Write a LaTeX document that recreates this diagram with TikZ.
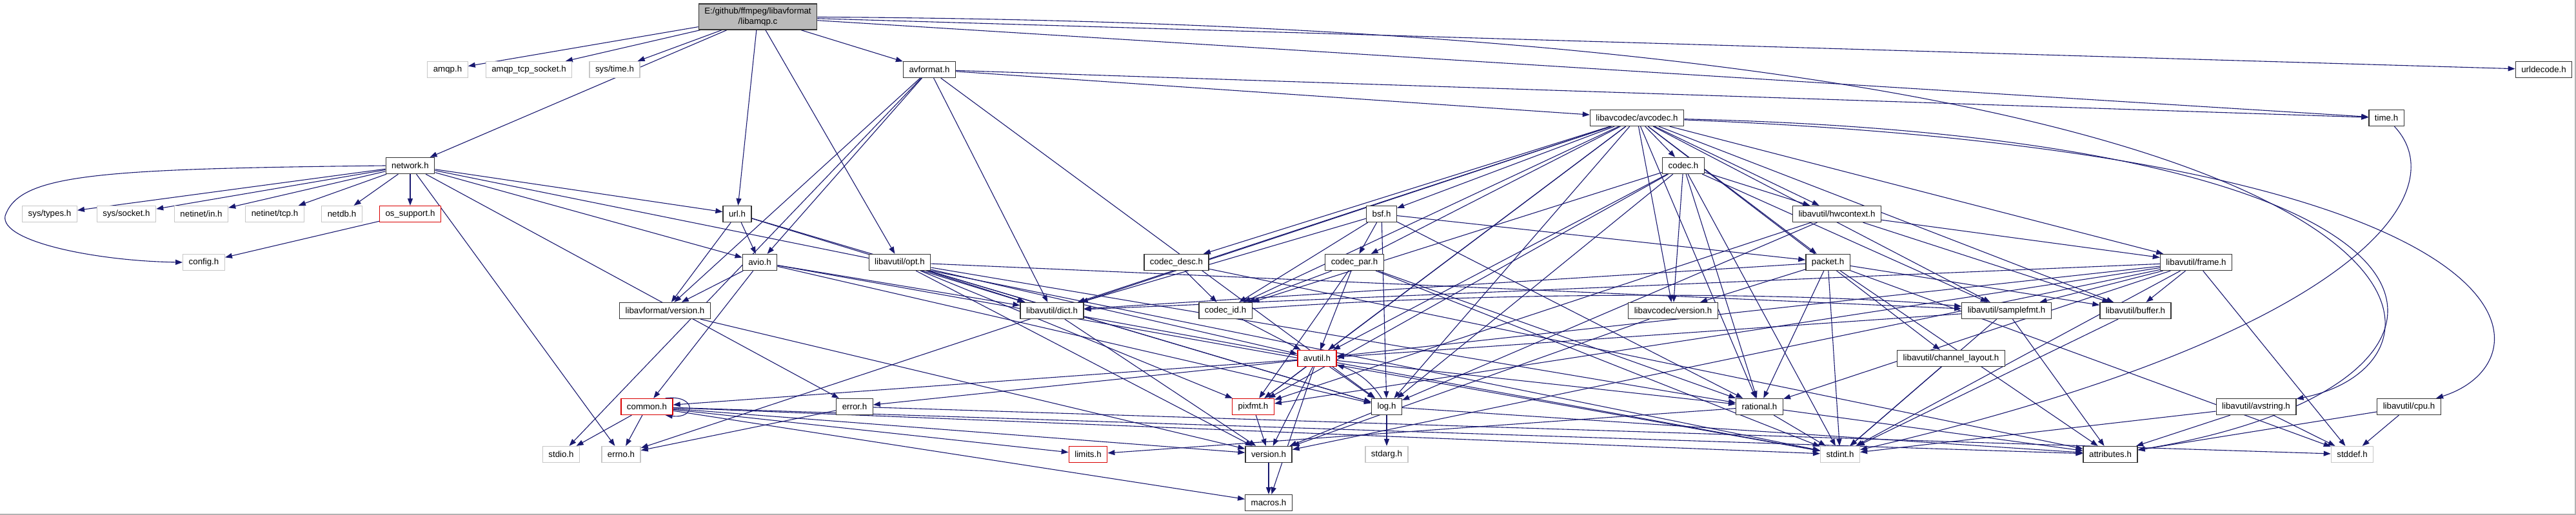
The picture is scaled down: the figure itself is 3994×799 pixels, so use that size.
\documentclass[tikz,border=0pt]{standalone}
\usepackage{fontspec}
\setmainfont{Liberation Sans}
\usepackage{tikz}
\usetikzlibrary{arrows.meta}
\definecolor{doxyblue}{HTML}{191970}
\pgfdeclarelayer{edges}
\pgfsetlayers{edges,main}

\begin{document}
\begin{tikzpicture}[
  x=1pt, y=-1pt,
  hdr/.style={draw=black!80, line width=1.3pt, fill=white, minimum height=25pt,
    inner xsep=9pt, inner ysep=0pt, font=\fontsize{13.3}{15.5}\selectfont},
  ext/.style={hdr, draw=black!22},
  trunc/.style={hdr, draw=red!85!black},
  main/.style={hdr, fill=black!27, minimum height=40pt, align=center},
  dep/.style={-{Triangle[length=11pt,width=8pt]}, line width=1.1pt, doxyblue}]

\useasboundingbox (0,0) rectangle (3994,799);

% ---- the file itself and its direct includes ---------------------------
\node[main]  (root)      at (1175,26)  {E:/github/ffmpeg/libavformat\\/libamqp.c};
\node[ext]   (amqp)      at (694,108)  {amqp.h};
\node[ext]   (amqptcp)   at (820,108)  {amqp\_tcp\_socket.h};
\node[ext]   (systime)   at (953,108)  {sys/time.h};
\node[hdr]   (avformat)  at (1441,108) {avformat.h};
\node[hdr]   (urldecode) at (3944,108) {urldecode.h};
\node[hdr]   (avcodec)   at (2538,183) {libavcodec/avcodec.h};
\node[hdr]   (timeh)     at (3700,183) {time.h};
\node[hdr]   (network)   at (636,257)  {network.h};
\node[hdr]   (codec)     at (2610,257) {codec.h};

% ---- network layer ------------------------------------------------------
\node[ext]   (systypes)  at (77,332)   {sys/types.h};
\node[ext]   (syssocket) at (196,332)  {sys/socket.h};
\node[ext]   (netin)     at (312,332)  {netinet/in.h};
\node[ext]   (nettcp)    at (426,332)  {netinet/tcp.h};
\node[ext]   (netdb)     at (530,332)  {netdb.h};
\node[trunc] (ossupport) at (636,332)  {os\_support.h};
\node[hdr]   (url)       at (1143,332) {url.h};
\node[hdr]   (bsf)       at (2142,332) {bsf.h};
\node[hdr]   (hwcontext) at (2848,332) {libavutil/hwcontext.h};
\node[ext]   (config)    at (316,407)  {config.h};
\node[hdr]   (avio)      at (1178,407) {avio.h};
\node[hdr]   (opt)       at (1395,407) {libavutil/opt.h};
\node[hdr]   (codecdesc) at (1824,407) {codec\_desc.h};
\node[hdr]   (codecpar)  at (2100,407) {codec\_par.h};
\node[hdr]   (packet)    at (2834,407) {packet.h};
\node[hdr]   (frame)     at (3405,407) {libavutil/frame.h};

% ---- libavutil and friends ----------------------------------------------
\node[hdr]   (lavfversion) at (1031,482) {libavformat/version.h};
\node[hdr]   (dict)      at (1631,482) {libavutil/dict.h};
\node[hdr]   (codecid)   at (1900,482) {codec\_id.h};
\node[hdr]   (lavcversion) at (2594,482) {libavcodec/version.h};
\node[hdr]   (samplefmt) at (3111,482) {libavutil/samplefmt.h};
\node[hdr]   (buffer)    at (3311,482) {libavutil/buffer.h};
\node[trunc] (avutil)    at (2042,556) {avutil.h};
\node[hdr]   (chlayout)  at (3025,556) {libavutil/channel\_layout.h};
\node[trunc] (common)    at (1003,631) {common.h};
\node[hdr]   (error)     at (1325,631) {error.h};
\node[trunc] (pixfmt)    at (1943,631) {pixfmt.h};
\node[hdr]   (log)       at (2150,631) {log.h};
\node[hdr]   (rational)  at (2728,631) {rational.h};
\node[hdr]   (avstring)  at (3498,631) {libavutil/avstring.h};
\node[hdr]   (cpu)       at (3735,631) {libavutil/cpu.h};

% ---- system headers and the bottom of the tree --------------------------
\node[ext]   (stdio)     at (870,705)  {stdio.h};
\node[ext]   (errno)     at (963,705)  {errno.h};
\node[trunc] (limits)    at (1687,705) {limits.h};
\node[hdr]   (version)   at (1967,705) {version.h};
\node[ext]   (stdarg)    at (2150,705) {stdarg.h};
\node[ext]   (stdint)    at (2853,705) {stdint.h};
\node[hdr]   (attributes) at (3272,705) {attributes.h};
\node[ext]   (stddef)    at (3647,705) {stddef.h};
\node[hdr]   (macros)    at (1967,780) {macros.h};

% ======================= include edges ==================================
\begin{pgfonlayer}{edges}
\foreach \t in {amqp,amqptcp,systime,avformat,urldecode,timeh,network,url,opt}
  \draw[dep] (root) -- (\t);
\draw[dep] (root) .. controls (3861,40) and (3861,560) .. (avstring);

\foreach \t in {avcodec,timeh,stdio,dict,log,avio,lavfversion}
  \draw[dep] (avformat) -- (\t);

\foreach \t in {errno,samplefmt,avutil,buffer,chlayout,dict,frame,hwcontext,log,
    pixfmt,rational,bsf,codec,codecdesc,codecpar,codecid,packet,lavcversion}
  \draw[dep] (avcodec) -- (\t);
\draw[dep] (avcodec) .. controls (3962,240) and (3962,560) .. (cpu);
\draw[dep] (avcodec) .. controls (3912,215) and (3912,600) .. (attributes);
\draw[dep] (timeh) .. controls (3810,300) and (3650,520) .. (stdint);

\foreach \t in {errno,stdint,error,ossupport,avio,url,systypes,syssocket,netin,nettcp,netdb}
  \draw[dep] (network) -- (\t);
% config.h is reached round the left of the row of system headers
\draw[dep] (network.west) .. controls (150,262) and (30,270) .. (8,335)
  .. controls (0,375) and (150,405) .. (config.west);

\foreach \t in {stdint,avutil,hwcontext,log,pixfmt,rational,samplefmt,codecid,lavcversion}
  \draw[dep] (codec) -- (\t);

\draw[dep] (ossupport) -- (config);
\foreach \t in {avio,lavfversion,dict,log}
  \draw[dep] (url) -- (\t);
\foreach \t in {dict,log,rational,codecid,codecpar,packet}
  \draw[dep] (bsf) -- (\t);
\foreach \t in {buffer,frame,log,pixfmt}
  \draw[dep] (hwcontext) -- (\t);
\foreach \t in {stdint,common,dict,log,lavfversion}
  \draw[dep] (avio) -- (\t);
\foreach \t in {rational,avutil,dict,log,pixfmt,samplefmt,version}
  \draw[dep] (opt) -- (\t);
\foreach \t in {attributes,codecid}
  \draw[dep] (codecdesc) -- (\t);
\foreach \t in {stdint,avutil,rational,pixfmt,codecid}
  \draw[dep] (codecpar) -- (\t);
\foreach \t in {stddef,stdint,attributes,buffer,dict,rational,lavcversion}
  \draw[dep] (packet) -- (\t);
\foreach \t in {stddef,stdint,avutil,buffer,dict,rational,samplefmt,pixfmt,version}
  \draw[dep] (frame) -- (\t);

\draw[dep] (lavfversion) -- (version);
\draw[dep] (lavcversion) -- (version);
\draw[dep] (pixfmt) -- (version);
\draw[dep] (version) -- (macros);
\draw[dep] (buffer) -- (stdint);
\draw[dep] (chlayout) -- (stdint);
\foreach \t in {stdint,version}
  \draw[dep] (dict) -- (\t);
\draw[dep] (codecid) -- (avutil);
\draw[dep] (codecid) .. controls (2300,452) and (2800,452) .. (samplefmt);
\foreach \t in {stdint,avutil,attributes}
  \draw[dep] (samplefmt) -- (\t);

\foreach \t in {common,error,rational,version,macros,pixfmt}
  \draw[dep] (avutil) -- (\t);
\draw[dep] (avutil) .. controls (2085,585) and (2105,600) .. (log);
\draw[dep] (log) .. controls (2125,590) and (2100,575) .. (avutil);
\foreach \t in {stdarg,attributes,version}
  \draw[dep] (log) -- (\t);

% common.h also reaches itself
\draw[dep] ([xshift=-12pt]common.north east)
  .. controls +(48,-6) and +(48,6) .. ([xshift=-12pt]common.south east);
\foreach \t in {stdio,errno,limits,stdint,attributes,macros,version}
  \draw[dep] (common) -- (\t);
\foreach \t in {errno,stddef}
  \draw[dep] (error) -- (\t);
\foreach \t in {stdint,limits,attributes}
  \draw[dep] (rational) -- (\t);
\foreach \t in {stddef,stdint,attributes}
  \draw[dep] (avstring) -- (\t);
\foreach \t in {stddef,attributes}
  \draw[dep] (cpu) -- (\t);
\end{pgfonlayer}

% frame line along the lower and right edge
\draw[black!30, line width=1.5pt] (0,798) -- (3993,798) -- (3993,0);

\end{tikzpicture}
\end{document}
